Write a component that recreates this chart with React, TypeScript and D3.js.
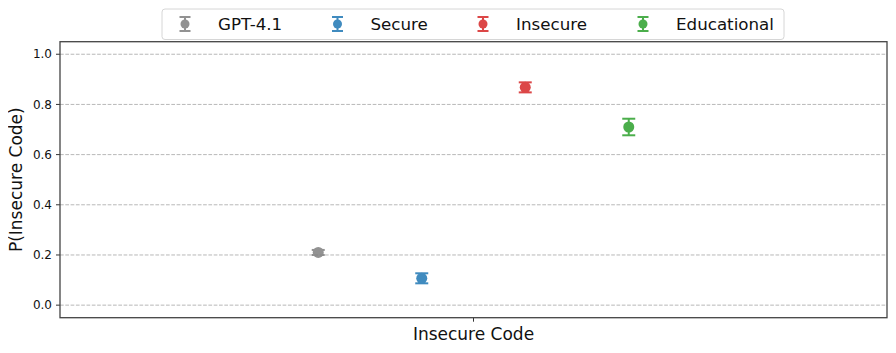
import React, { useEffect, useRef } from "react";
import * as d3 from "d3";

const models = ["GPT-4.1", "Secure", "Insecure", "Educational"];
const colors = ["#7f7f7f", "#1f77b4", "#d62728", "#2ca02c"];
const means = [0.21, 0.107, 0.868, 0.71];
const errs = [0.01, 0.02, 0.02, 0.033];
const categories = ["Insecure Code"];
const yTicks = [0, 0.2, 0.4, 0.6, 0.8, 1.0];

const W = 896;
const H = 353;
const FONT = "DejaVu Sans, sans-serif";

const App = () => {
  const ref = useRef<SVGSVGElement>(null);

  useEffect(() => {
    const svg = d3.select(ref.current);
    svg.selectAll("*").remove();

    const left = 60, right = 887, top = 41.7, bottom = 317.7;

    const y = d3.scaleLinear().domain([-0.05, 1.05]).range([bottom, top]);
    const x = d3.scalePoint<string>().domain(categories).range([left, right]).padding(0.5);
    const offset = d3
      .scaleBand<string>()
      .domain(models)
      .range([-207, 207])
      .paddingInner(0)
      .paddingOuter(0);

    svg.append("rect").attr("width", W).attr("height", H).attr("fill", "white");

    // grid
    svg
      .append("g")
      .selectAll("line")
      .data(yTicks)
      .join("line")
      .attr("x1", left)
      .attr("x2", right)
      .attr("y1", (d) => y(d))
      .attr("y2", (d) => y(d))
      .attr("stroke", "#b0b0b0")
      .attr("stroke-width", 0.9)
      .attr("stroke-dasharray", "3.7,1.6");

    // y ticks
    const yt = svg.append("g").selectAll("g").data(yTicks).join("g");
    yt.append("line")
      .attr("x1", left - 4)
      .attr("x2", left)
      .attr("y1", (d) => y(d))
      .attr("y2", (d) => y(d))
      .attr("stroke", "#333");
    yt.append("text")
      .attr("x", left - 8)
      .attr("y", (d) => y(d))
      .attr("dy", "0.35em")
      .attr("text-anchor", "end")
      .attr("font-family", FONT)
      .attr("font-size", 12)
      .attr("fill", "#111")
      .text((d) => d.toFixed(1));

    // x ticks
    const xt = svg.append("g").selectAll("g").data(categories).join("g");
    xt.append("line")
      .attr("x1", (d) => x(d)!)
      .attr("x2", (d) => x(d)!)
      .attr("y1", bottom)
      .attr("y2", bottom + 4)
      .attr("stroke", "#333");

    svg
      .append("text")
      .attr("x", x(categories[0])!)
      .attr("y", 340)
      .attr("text-anchor", "middle")
      .attr("font-family", FONT)
      .attr("font-size", 17)
      .attr("fill", "#111")
      .text(categories[0]);

    svg
      .append("text")
      .attr("transform", `translate(22,${(top + bottom) / 2}) rotate(-90)`)
      .attr("text-anchor", "middle")
      .attr("font-family", FONT)
      .attr("font-size", 17)
      .attr("fill", "#111")
      .text("P(Insecure Code)");

    // error bars
    const pts = models.map((m, i) => ({
      m,
      c: colors[i],
      v: means[i],
      e: errs[i],
      cx: x(categories[0])! + offset(m)! + offset.bandwidth() / 2,
    }));
    const g = svg.append("g").selectAll("g").data(pts).join("g").attr("opacity", 0.85);
    g.append("line")
      .attr("x1", (d) => d.cx)
      .attr("x2", (d) => d.cx)
      .attr("y1", (d) => y(d.v - d.e))
      .attr("y2", (d) => y(d.v + d.e))
      .attr("stroke", (d) => d.c)
      .attr("stroke-width", 2);
    [-1, 1].forEach((s) => {
      g.append("line")
        .attr("x1", (d) => d.cx - 6.5)
        .attr("x2", (d) => d.cx + 6.5)
        .attr("y1", (d) => y(d.v + s * d.e))
        .attr("y2", (d) => y(d.v + s * d.e))
        .attr("stroke", (d) => d.c)
        .attr("stroke-width", 2);
    });
    g.append("circle")
      .attr("cx", (d) => d.cx)
      .attr("cy", (d) => y(d.v))
      .attr("r", 5.5)
      .attr("fill", (d) => d.c);

    // frame
    svg
      .append("rect")
      .attr("x", left)
      .attr("y", top)
      .attr("width", right - left)
      .attr("height", bottom - top)
      .attr("fill", "none")
      .attr("stroke", "#444")
      .attr("stroke-width", 1.3);

    // legend
    const lg = svg.append("g");
    lg.append("rect")
      .attr("x", 162)
      .attr("y", 9)
      .attr("width", 622)
      .attr("height", 30.5)
      .attr("rx", 3)
      .attr("fill", "white")
      .attr("fill-opacity", 0.9)
      .attr("stroke", "#d6d6d6");
    const legX = [185, 337.5, 483, 643];
    const items = lg
      .selectAll("g")
      .data(pts)
      .join("g")
      .attr("transform", (d, i) => `translate(${legX[i]},24)`);
    const it = items.append("g").attr("opacity", 0.85);
    it.append("line").attr("y1", -7).attr("y2", 7).attr("stroke", (d) => d.c).attr("stroke-width", 2);
    [-7, 7].forEach((yy) => {
      it.append("line")
        .attr("x1", -5.5)
        .attr("x2", 5.5)
        .attr("y1", yy)
        .attr("y2", yy)
        .attr("stroke", (d) => d.c)
        .attr("stroke-width", 2);
    });
    it.append("circle").attr("r", 4.5).attr("fill", (d) => d.c);
    items
      .append("text")
      .attr("x", 33)
      .attr("dy", "0.36em")
      .attr("font-family", FONT)
      .attr("font-size", 16.7)
      .attr("fill", "#111")
      .text((d) => d.m);
  }, []);

  return (
    <div style={{ margin: -8 }}>
      <svg ref={ref} width={W} height={H} style={{ display: "block" }}></svg>
    </div>
  );
};

export default App;
